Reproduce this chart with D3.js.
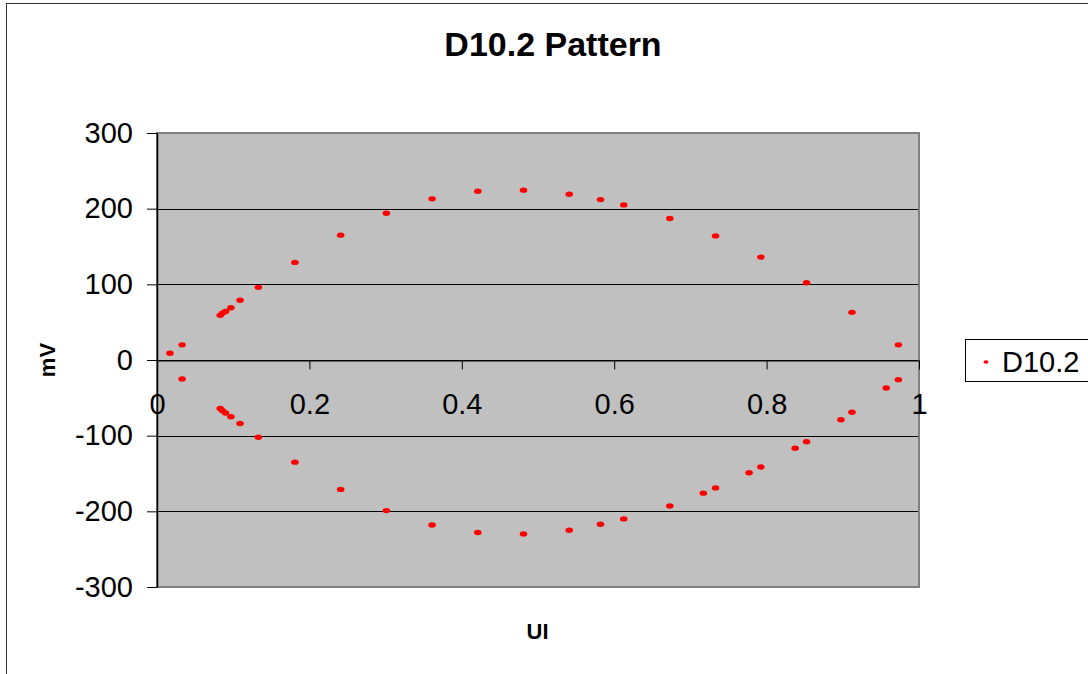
<!DOCTYPE html>
<html>
<head>
<meta charset="utf-8">
<script src="https://cdn.jsdelivr.net/npm/d3@7"></script>
<style>
  html, body { margin: 0; padding: 0; background: #fff; }
  svg { display: block; font-family: "Liberation Sans", Arial, sans-serif; }
</style>
</head>
<body>
<svg id="chart" width="1088" height="674"></svg>
<script>
// ---- data ----
const seriesName = "D10.2";
const uiValues = [
  0.017, 0.033, 0.083, 0.086, 0.090, 0.097, 0.109, 0.133, 0.181, 0.241, 0.301, 0.361,
  0.421, 0.481, 0.541, 0.582, 0.6125, 0.673, 0.733, 0.7925, 0.8525, 0.912, 0.973,
  0.033, 0.083, 0.086, 0.090, 0.097, 0.109, 0.133, 0.181, 0.241, 0.301, 0.361, 0.421,
  0.481, 0.541, 0.582, 0.6125, 0.673, 0.717, 0.733, 0.777, 0.7925, 0.8375, 0.8525,
  0.8975, 0.912, 0.957, 0.973
];
const mvValues = [
  9, 20, 59, 62, 64, 69, 79, 96, 129, 165, 194, 213,
  223, 224.5, 219, 212, 205, 187, 164, 136, 102, 63, 20,
  -25, -64, -67, -70, -75, -84, -102, -135, -171, -199, -218, -228,
  -230, -225, -217, -210, -193, -176, -169, -149, -141.5, -116.5, -108,
  -79, -69, -37, -26
];
const xTicks = [0, 0.2, 0.4, 0.6, 0.8, 1];
const yTicks = [-300, -200, -100, 0, 100, 200, 300];
const titleText = "D10.2 Pattern";
const xLabel = "UI";
const yLabel = "mV";

// ---- layout ----
const svg = d3.select("#chart");
const plot = { left: 157, right: 919, top: 133, bottom: 587 };
const x = d3.scaleLinear().domain([0, 1]).range([plot.left, plot.right]);
const y = d3.scaleLinear().domain([-300, 300]).range([plot.bottom, plot.top]);

// outer chart border
svg.append("rect").attr("x", 6.5).attr("y", 3.5).attr("width", 1200).attr("height", 800)
  .attr("fill", "#fff").attr("stroke", "#333").attr("stroke-width", 1);

// plot background
svg.append("rect").attr("x", plot.left).attr("y", plot.top)
  .attr("width", plot.right - plot.left).attr("height", plot.bottom - plot.top)
  .attr("fill", "#c0c0c0");

// gridlines
svg.append("g").selectAll("line").data(yTicks).join("line")
  .attr("x1", plot.left).attr("x2", plot.right)
  .attr("y1", d => Math.round(y(d)) + 0.5).attr("y2", d => Math.round(y(d)) + 0.5)
  .attr("stroke", "#000").attr("stroke-width", 1);

// plot border
svg.append("rect").attr("x", plot.left).attr("y", plot.top)
  .attr("width", plot.right - plot.left).attr("height", plot.bottom - plot.top)
  .attr("fill", "none").attr("stroke", "#808080").attr("stroke-width", 2);

// y axis
const yAxis = svg.append("g").attr("transform", `translate(${plot.left},0)`)
  .call(d3.axisLeft(y).tickValues(yTicks).tickSize(10).tickSizeOuter(0).tickPadding(14)
    .tickFormat(d => String(d)));
yAxis.select(".domain").attr("stroke", "#000").attr("stroke-width", 1.5);
yAxis.selectAll(".tick line").attr("stroke", "#000");
yAxis.selectAll("text").attr("font-size", 29).attr("fill", "#000")
  .attr("font-family", "Liberation Sans, Arial, sans-serif");

// x axis at zero
const xAxis = svg.append("g").attr("transform", `translate(0,${Math.round(y(0)) + 0.5})`)
  .call(d3.axisBottom(x).tickValues(xTicks).tickSize(9).tickSizeOuter(0).tickPadding(24)
    .tickFormat(d => String(d)));
xAxis.select(".domain").attr("stroke", "#000").attr("stroke-width", 1);
xAxis.selectAll(".tick line").attr("stroke", "#000");
xAxis.selectAll("text").attr("font-size", 29).attr("fill", "#000")
  .attr("font-family", "Liberation Sans, Arial, sans-serif");

// points
const pts = uiValues.map((u, i) => ({ u, v: mvValues[i] }));
svg.append("g").selectAll("ellipse").data(pts).join("ellipse")
  .attr("cx", d => x(d.u)).attr("cy", d => y(d.v))
  .attr("rx", 3.8).attr("ry", 2.7).attr("fill", "#ff0000");

// title
svg.append("text").attr("x", 553).attr("y", 56).attr("text-anchor", "middle")
  .attr("font-size", 34).attr("font-weight", "bold").text(titleText);

// axis titles
svg.append("text").attr("x", 537.5).attr("y", 639).attr("text-anchor", "middle")
  .attr("font-size", 22).attr("font-weight", "bold").text(xLabel);
svg.append("text").attr("transform", `translate(55,360) rotate(-90)`).attr("text-anchor", "middle")
  .attr("font-size", 22).attr("font-weight", "bold").text(yLabel);

// legend
const lg = svg.append("g");
lg.append("rect").attr("x", 965.5).attr("y", 339.5).attr("width", 200).attr("height", 42)
  .attr("fill", "#fff").attr("stroke", "#000").attr("stroke-width", 1);
lg.append("ellipse").attr("cx", 986).attr("cy", 362).attr("rx", 2.5).attr("ry", 1.8).attr("fill", "#ff0000");
lg.append("text").attr("x", 1002).attr("y", 372).attr("font-size", 29).text(seriesName);
</script>
</body>
</html>
